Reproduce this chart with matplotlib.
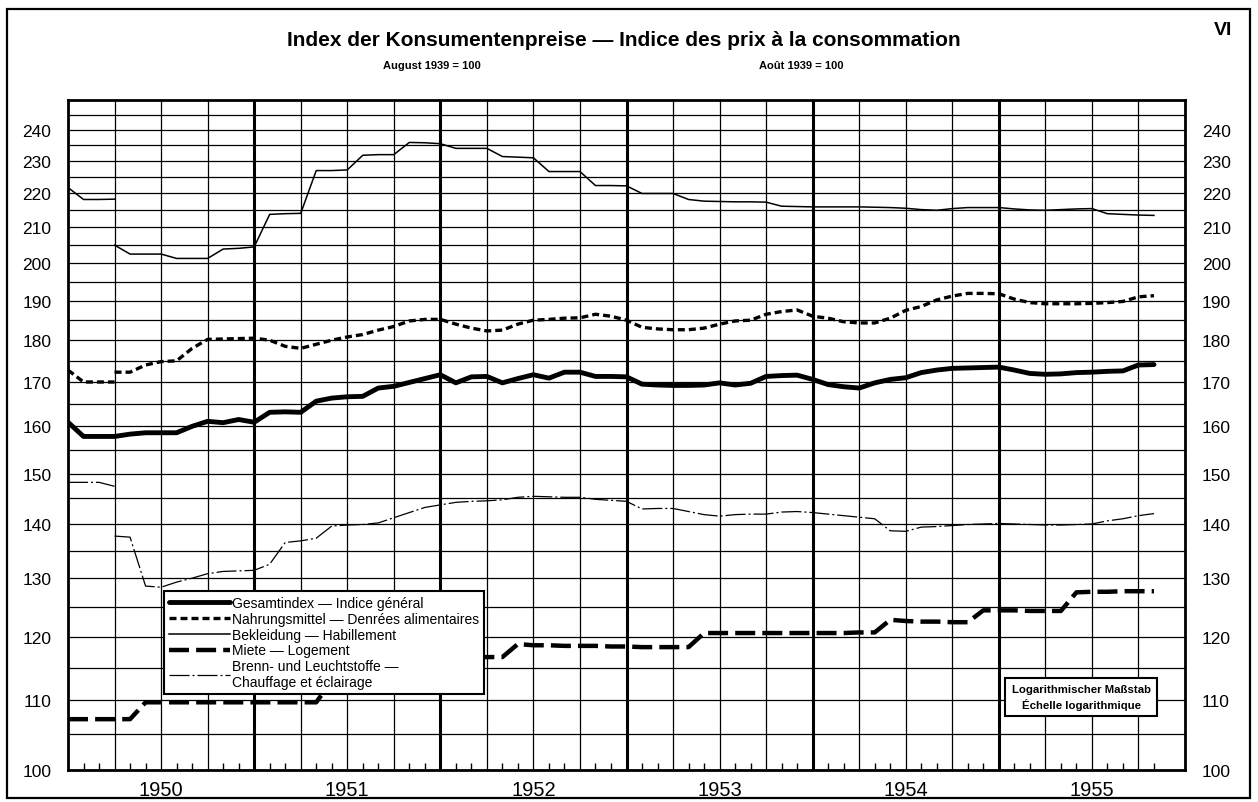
import numpy as np
import matplotlib
matplotlib.use("Agg")
import matplotlib.pyplot as plt
from matplotlib.patches import Rectangle
from matplotlib.ticker import NullFormatter

plt.rcParams['font.family'] = ['Liberation Sans', 'DejaVu Sans']

# Monate ab Januar 1950 (0) bis November 1955 (70)
monate = np.arange(71)
monate_alt = monate[:4]
monate_neu = monate[3:]

jahre = ['1950', '1951', '1952', '1953', '1954', '1955']

# Gesamtindex - Indice général
gesamt = [160.9, 157.8, 157.8, 157.8, 158.3, 158.6, 158.6, 158.6, 160.0, 161.1,
          160.8, 161.5, 160.9, 163.1, 163.2, 163.1, 165.6, 166.3, 166.6, 166.7,
          168.6, 169.0, 169.9, 170.8, 171.7, 169.8, 171.2, 171.3, 169.8, 170.8,
          171.7, 170.9, 172.3, 172.3, 171.3, 171.3, 171.2, 169.5, 169.3, 169.2,
          169.2, 169.3, 169.8, 169.3, 169.7, 171.3, 171.5, 171.6, 170.6, 169.4,
          168.9, 168.6, 169.8, 170.6, 171.0, 172.2, 172.8, 173.2, 173.3, 173.4,
          173.5, 172.8, 172.0, 171.8, 171.9, 172.2, 172.3, 172.5, 172.6, 174.0,
          174.1]

# Nahrungsmittel - Denrées alimentaires
nahrung_alt = [172.8, 170.0, 170.0, 170.0]
nahrung = [172.3, 172.3, 174.0, 174.8, 175.0, 178.0, 180.2,
           180.3, 180.4, 180.5, 180.0, 178.5, 178.0, 179.0, 180.0, 180.8, 181.4,
           182.5, 183.4, 184.8, 185.2, 185.2, 184.0, 183.0, 182.3, 182.5, 184.0,
           185.0, 185.2, 185.5, 185.6, 186.5, 186.0, 185.0, 183.2, 182.8, 182.6,
           182.6, 183.0, 184.0, 184.8, 185.0, 186.5, 187.2, 187.6, 186.0, 185.5,
           184.6, 184.3, 184.3, 185.5, 187.5, 188.5, 190.2, 191.2, 191.9, 191.9,
           191.8, 190.4, 189.5, 189.2, 189.2, 189.2, 189.3, 189.5, 189.8, 191.0,
           191.3]

# Bekleidung - Habillement
bekleidung_alt = [221.8, 218.2, 218.2, 218.3]
bekleidung = [205.0, 202.5, 202.5, 202.5, 201.3, 201.3, 201.3,
              203.9, 204.1, 204.5, 213.8, 214.0, 214.1, 227.0, 227.0, 227.2, 231.8,
              232.0, 232.0, 235.9, 235.8, 235.5, 234.0, 234.0, 234.0, 231.4, 231.2,
              231.0, 226.7, 226.7, 226.7, 222.4, 222.4, 222.3, 220.0, 220.0, 220.0,
              218.2, 217.7, 217.6, 217.5, 217.5, 217.4, 216.2, 216.1, 216.0, 216.0,
              216.0, 216.0, 215.9, 215.8, 215.6, 215.2, 215.0, 215.5, 215.8, 215.8,
              215.8, 215.4, 215.1, 215.0, 215.2, 215.4, 215.5, 214.0, 213.8, 213.6,
              213.5]

# Miete - Logement
miete = [107.2, 107.2, 107.2, 107.2, 107.2, 109.7, 109.7, 109.7, 109.7, 109.7,
         109.7, 109.7, 109.7, 109.7, 109.7, 109.7, 109.7, 113.0, 113.0, 113.0,
         113.0, 114.0, 114.0, 114.0, 116.7, 116.7, 116.7, 116.7, 116.7, 118.8,
         118.6, 118.6, 118.5, 118.5, 118.5, 118.4, 118.4, 118.3, 118.3, 118.3,
         118.3, 120.6, 120.6, 120.6, 120.6, 120.6, 120.6, 120.6, 120.6, 120.6,
         120.6, 120.7, 120.7, 122.8, 122.6, 122.5, 122.5, 122.4, 122.4, 124.4,
         124.4, 124.4, 124.3, 124.3, 124.3, 127.5, 127.6, 127.6, 127.7, 127.7,
         127.7]

# Brenn- und Leuchtstoffe - Chauffage et éclairage
brenn_alt = [148.2, 148.2, 148.2, 147.4]
brenn = [137.7, 137.5, 128.6, 128.4, 129.3, 130.0, 130.8,
         131.2, 131.3, 131.4, 132.5, 136.5, 136.8, 137.3, 139.6, 139.8, 139.9,
         140.2, 141.2, 142.2, 143.2, 143.7, 144.2, 144.4, 144.5, 144.7, 145.2,
         145.4, 145.3, 145.2, 145.2, 144.8, 144.6, 144.4, 142.9, 143.0, 143.0,
         142.4, 141.8, 141.5, 141.8, 141.9, 141.9, 142.3, 142.4, 142.2, 141.9,
         141.6, 141.3, 141.0, 138.7, 138.6, 139.4, 139.5, 139.7, 139.9, 140.0,
         140.1, 140.0, 139.9, 139.8, 139.8, 139.9, 140.0, 140.6, 141.0, 141.6,
         142.0]

y_labels = list(range(100, 250, 10))
y_grid = list(range(105, 250, 10))

fig = plt.figure(figsize=(12.58, 8.03), dpi=100)
ax = fig.add_axes([68 / 1258, 32 / 803, 1117 / 1258, 670 / 803])

# Kurven
l_gesamt, = ax.plot(monate, gesamt, color='black', lw=3.5, solid_capstyle='round',
                    label='Gesamtindex — Indice général')
ax.plot(monate_alt, nahrung_alt, color='black', lw=2.4, ls=(0, (2.1, 1.2)))
l_nahrung, = ax.plot(monate_neu, nahrung, color='black', lw=2.4, ls=(0, (2.1, 1.2)),
                     label='Nahrungsmittel — Denrées alimentaires')
ax.plot(monate_alt, bekleidung_alt, color='black', lw=1.1)
l_bekl, = ax.plot(monate_neu, bekleidung, color='black', lw=1.1,
                  label='Bekleidung — Habillement')
l_miete, = ax.plot(monate, miete, color='black', lw=3.2, ls=(0, (4.5, 1.6)),
                   label='Miete — Logement')
ax.plot(monate_alt, brenn_alt, color='black', lw=0.9, ls=(0, (16, 2.4, 1.6, 2.4)))
l_brenn, = ax.plot(monate_neu, brenn, color='black', lw=0.9, ls=(0, (16, 2.4, 1.6, 2.4)),
                   label='Brenn- und Leuchtstoffe —\nChauffage et éclairage')

# Achsen
ax.set_yscale('log')
ax.set_ylim(100, 250)
ax.set_xlim(0, 72)
ax.set_yticks(y_labels, labels=[str(v) for v in y_labels])
ax.set_yticks(y_grid, minor=True)
ax.yaxis.set_minor_formatter(NullFormatter())
ax.tick_params(axis='y', which='both', length=0, labelleft=True, labelright=True,
               labelsize=12.5, pad=12)

quartale = np.arange(0, 73, 3)
ax.set_xticks(quartale, labels=[jahre[i // 4] if i % 4 == 2 else '' for i in range(len(quartale))])
ax.set_xticks(monate, minor=True)
ax.tick_params(axis='x', which='major', length=0, labelsize=14.5, pad=7)
ax.tick_params(axis='x', which='minor', direction='in', length=5, width=1, color='black')

ax.grid(True, axis='y', which='both', color='black', lw=0.9)
ax.grid(True, axis='x', which='major', color='black', lw=0.9)
for j in range(12, 72, 12):
    ax.axvline(j, color='black', lw=2.2)
for s in ax.spines.values():
    s.set_linewidth(2)

# Legende
leg = ax.legend(handles=[l_gesamt, l_nahrung, l_bekl, l_miete, l_brenn],
                loc='upper left', bbox_to_anchor=(0.086, 0.267), borderaxespad=0,
                fontsize=10, handlelength=4.4, handletextpad=0.15, labelspacing=0.13,
                borderpad=0.35, fancybox=False, framealpha=1, edgecolor='black')
leg.get_frame().set_linewidth(1.5)
leg.set_zorder(5)

ax.text(0.907, 0.109, 'Logarithmischer Maßstab\nÉchelle logarithmique', transform=ax.transAxes,
        ha='center', va='center', fontsize=8.2, fontweight='bold', linespacing=1.4, zorder=6,
        bbox=dict(boxstyle='square,pad=0.55', facecolor='white', edgecolor='black', lw=1.5))

# Titel
fig.text(0.4955, 0.950, 'Index der Konsumentenpreise — Indice des prix à la consommation',
         ha='center', va='center', fontsize=15, fontweight='bold')
fig.text(0.343, 0.918, 'August 1939 = 100', ha='center', va='center', fontsize=8, fontweight='bold')
fig.text(0.637, 0.918, 'Août 1939 = 100', ha='center', va='center', fontsize=8, fontweight='bold')
fig.text(0.972, 0.962, 'VI', ha='center', va='center', fontsize=14, fontweight='bold')

fig.add_artist(Rectangle((7 / 1258, 4 / 803), 1243 / 1258, 789 / 803, transform=fig.transFigure,
                         fill=False, edgecolor='black', lw=1.6))

fig.savefig('out.png', dpi=100)
